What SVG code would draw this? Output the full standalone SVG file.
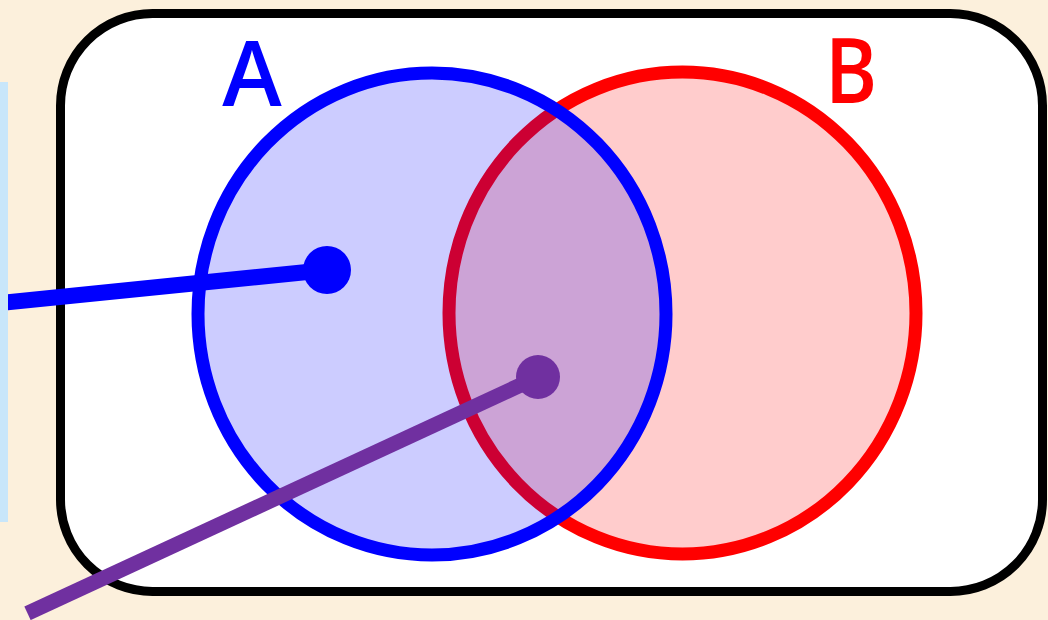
<svg xmlns="http://www.w3.org/2000/svg" width="1048" height="620" viewBox="0 0 1048 620">
<style>
.lbl{font-family:"Open Sans","Liberation Sans",sans-serif;font-size:90px;font-weight:600;text-anchor:middle}
.ring{stroke-width:13}
</style>
<rect x="0" y="0" width="1048" height="620" fill="#FCF0DC"/>
<g id="universe">
<rect x="60.5" y="13.5" width="982" height="578" rx="92" ry="92" fill="#FFFFFF" stroke="#000000" stroke-width="9"/>
</g>
<g id="setB">
<ellipse class="ring" cx="682.5" cy="313" rx="233.5" ry="241" fill="#FFCCCC" stroke="#FF0000"/>
<text class="lbl" x="851" y="103" fill="#FF0000" transform="translate(851 0) scale(0.88 1) translate(-851 0)">B</text>
</g>
<g id="setA">
<ellipse class="ring" cx="432" cy="314" rx="234" ry="241" fill="#0000FF" fill-opacity="0.2" stroke="none"/>
<ellipse class="ring" cx="432" cy="314" rx="234" ry="241" fill="none" stroke="#0000FF"/>
<text class="lbl" x="252" y="106" fill="#0000FF">A</text>
</g>
<g id="connectors">
<line x1="0" y1="303" x2="327" y2="270" stroke="#0000FF" stroke-width="16"/>
<circle cx="327" cy="270" r="24" fill="#0000FF"/>
<line x1="27.5" y1="613.3" x2="538" y2="377" stroke="#7030A0" stroke-width="15"/>
<circle cx="538" cy="377" r="22" fill="#7030A0"/>
</g>
<g id="panel">
<rect x="0" y="82" width="8" height="440" fill="#C8E6FA"/>
</g>
</svg>
